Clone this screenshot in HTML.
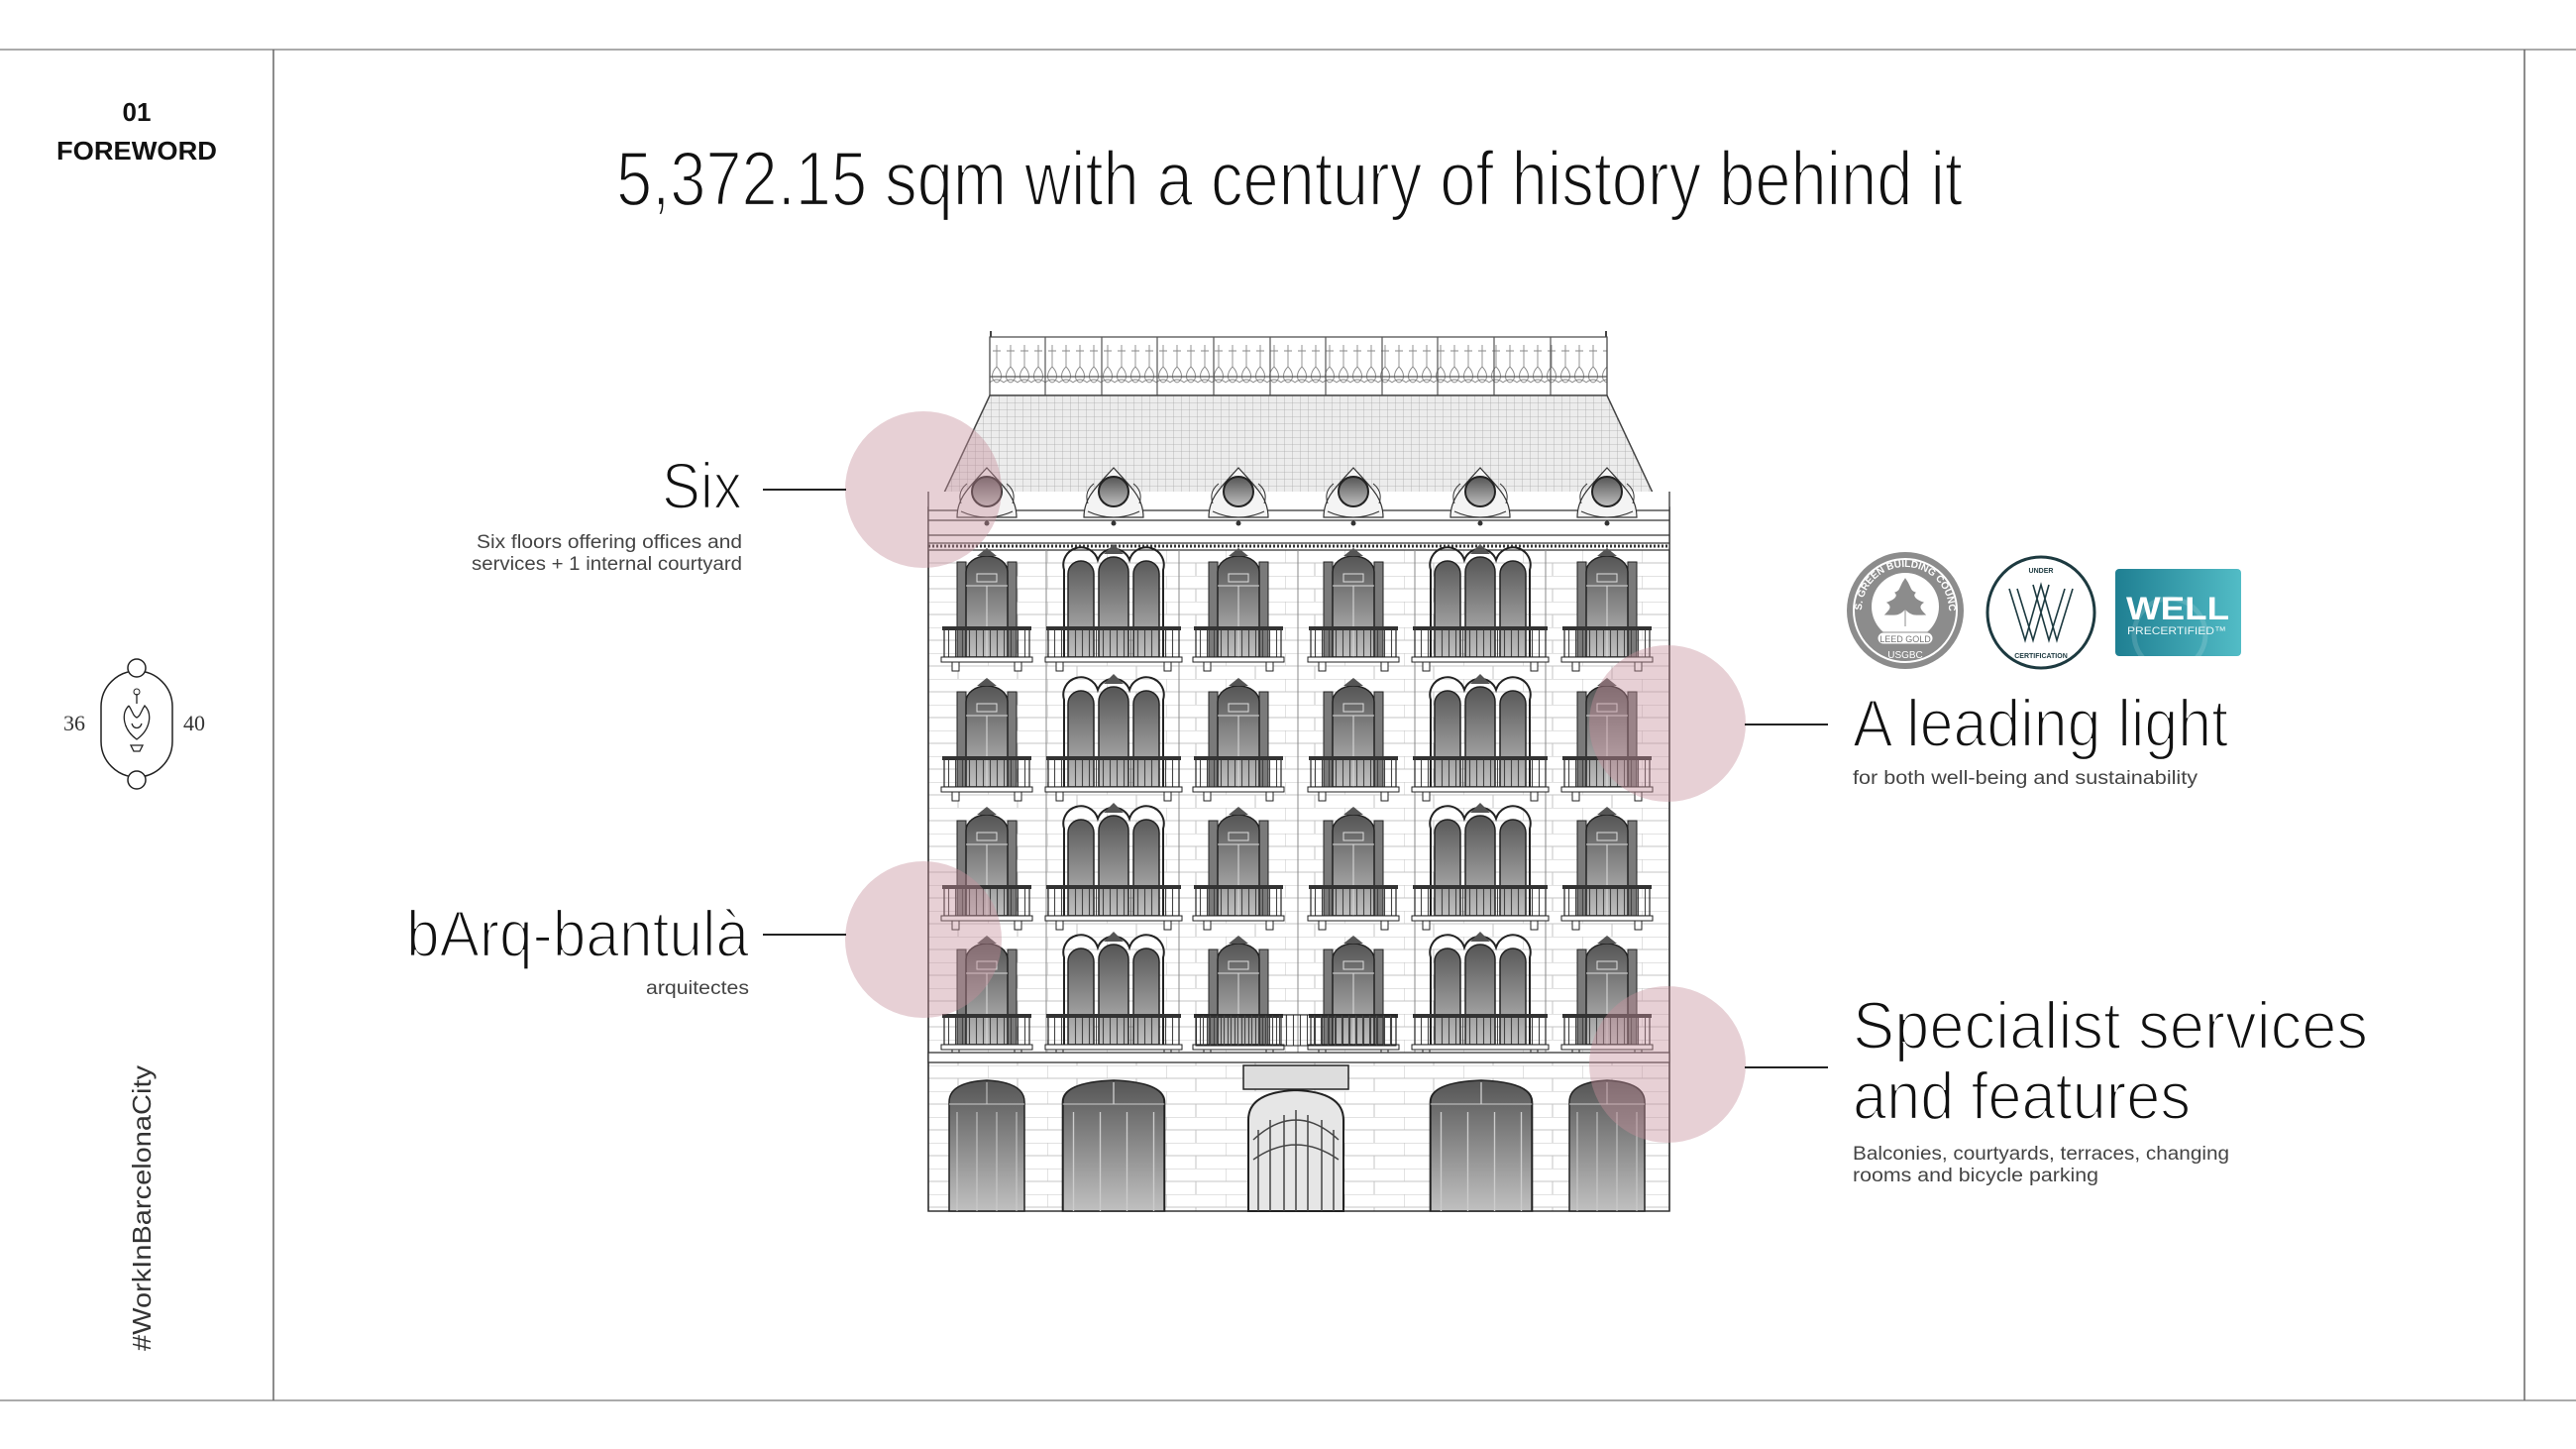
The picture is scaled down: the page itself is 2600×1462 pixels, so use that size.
<!DOCTYPE html>
<html><head><meta charset="utf-8"><style>
html,body{margin:0;padding:0;background:#fff;}
svg{display:block;}
text{font-family:"Liberation Sans",sans-serif;}
.thin{stroke:#fff;stroke-width:2.2px;}
</style></head><body>
<svg width="2600" height="1462" viewBox="0 0 2600 1462" xmlns="http://www.w3.org/2000/svg" fill="#111">
<defs>
 <linearGradient id="wg" x1="0" y1="0" x2="0" y2="1"><stop offset="0" stop-color="#555"/><stop offset="1" stop-color="#c0c0c0"/></linearGradient>
 <linearGradient id="wellg" x1="0" y1="0" x2="1" y2="0"><stop offset="0" stop-color="#1f7f92"/><stop offset="1" stop-color="#52bcc6"/></linearGradient>
 <pattern id="brick" x="937" y="555" width="60" height="26" patternUnits="userSpaceOnUse">
  <path d="M0 0H60M0 13H60M0 0V13M30 13V26" stroke="#c4c4c4" stroke-width="1" fill="none"/>
 </pattern>
 <pattern id="tile" x="0" y="399" width="8" height="7" patternUnits="userSpaceOnUse">
  <rect width="8" height="7" fill="#ececec"/><path d="M0 0H8M0 0V7" stroke="#ababab" stroke-width="0.8"/>
 </pattern>
 <pattern id="rail" x="999" y="340" width="14" height="59" patternUnits="userSpaceOnUse">
  <path d="M7 8V30M3 14H11M7 30c-6 6 -6 14 0 16c6-2 6-10 0-16M0 46c4-4 10-4 14 0" stroke="#888" stroke-width="0.9" fill="none"/>
 </pattern>
 <pattern id="bal" x="0" y="0" width="7" height="30" patternUnits="userSpaceOnUse">
  <path d="M3.5 0V30" stroke="#444" stroke-width="1.1"/>
 </pattern>
 <g id="nw">
  <rect x="-30" y="10" width="9" height="96" fill="#7a7a7a" stroke="#222"/>
  <rect x="21" y="10" width="9" height="96" fill="#7a7a7a" stroke="#222"/>
  <path d="M-21 106V20A21 16 0 0 1 21 20V106Z" fill="url(#wg)" stroke="#222" stroke-width="1.5"/>
  <path d="M-21 34H21M0 34V106M-10 22H10V30H-10Z" stroke="#ddd" stroke-width="1" fill="none"/>
  <path d="M-10 4L0 -4L10 4Z" fill="#555"/>
  <rect x="-43" y="78" width="86" height="28" fill="url(#bal)" stroke="#222" stroke-width="1.2"/>
  <rect x="-45" y="75" width="90" height="4" fill="#333"/>
  <rect x="-46" y="106" width="92" height="5" fill="#fff" stroke="#222"/>
  <rect x="-35" y="111" width="7" height="9" fill="#fff" stroke="#222"/>
  <rect x="28" y="111" width="7" height="9" fill="#fff" stroke="#222"/>
 </g>
 <g id="ww">
  <path d="M-46 106V22A13 13 0 0 1 -20 22V106Z M-15 106V20A15 15 0 0 1 15 20V106Z M20 106V22A13 13 0 0 1 46 22V106Z" fill="url(#wg)" stroke="#222" stroke-width="1.5"/>
  <path d="M-50 106V18A17 17 0 0 1 -16 8A17 17 0 0 1 16 8A17 17 0 0 1 50 18V106" fill="none" stroke="#222" stroke-width="2"/>
  <path d="M-10 2L0 -8L10 2Z" fill="#555"/>
  <rect x="-66" y="78" width="132" height="28" fill="url(#bal)" stroke="#222" stroke-width="1.2"/>
  <rect x="-68" y="75" width="136" height="4" fill="#333"/>
  <rect x="-69" y="106" width="138" height="5" fill="#fff" stroke="#222"/>
  <rect x="-58" y="111" width="7" height="9" fill="#fff" stroke="#222"/>
  <rect x="51" y="111" width="7" height="9" fill="#fff" stroke="#222"/>
 </g>
 <g id="dorm">
  <path d="M-30 28C-30 8 -18 -2 0 -22C18 -2 30 8 30 28Z" fill="#f4f4f4" stroke="#333" stroke-width="1.2"/>
  <circle cx="0" cy="2" r="15" fill="url(#wg)" stroke="#222" stroke-width="2"/>
  <path d="M-26 22Q0 34 26 22M-20 -6Q-30 2 -26 14M20 -6Q30 2 26 14" fill="none" stroke="#333"/>
  <circle cx="0" cy="34" r="2.5" fill="#333"/>
 </g>
 <g id="arch">
  <path d="M-38 130V20Q-38 0 0 -2Q38 0 38 20V130Z" fill="url(#wg)" stroke="#222" stroke-width="1.5"/>
  <path d="M-38 22H38M-30 30V130M-10 30V130M10 30V130M30 30V130M0 0V22" stroke="#ccc" fill="none"/>
 </g>
</defs>

<line x1="0" y1="50" x2="2600" y2="50" stroke="#aaa" stroke-width="2"/>
<line x1="0" y1="1413" x2="2600" y2="1413" stroke="#aaa" stroke-width="2"/>
<line x1="276" y1="50" x2="276" y2="1413" stroke="#666" stroke-width="1.5"/>
<line x1="2548" y1="50" x2="2548" y2="1413" stroke="#666" stroke-width="1.5"/>

<text x="138" y="122" font-size="26" font-weight="bold" text-anchor="middle">01</text>
<text x="138" y="161" font-size="26" font-weight="bold" text-anchor="middle" textLength="162" lengthAdjust="spacingAndGlyphs">FOREWORD</text>
<rect x="102" y="677" width="72" height="107" rx="36" fill="none" stroke="#222" stroke-width="1.5"/>
<circle cx="138" cy="674" r="9" fill="#fff" stroke="#222" stroke-width="1.5"/>
<circle cx="138" cy="787" r="9" fill="#fff" stroke="#222" stroke-width="1.5"/>
<path d="M138 700v10M130 712c-8 8 -6 24 8 34c14-10 16-26 8-34c-4 6 -4 10 -8 12c-4-2 -4-6 -8-12M133 730c2 6 8 6 10 0M132 752h12l-3 6h-6z" fill="none" stroke="#222" stroke-width="1.3"/>
<circle cx="138" cy="698" r="3" fill="none" stroke="#222"/>
<text x="64" y="737" font-size="22" style="font-family:'Liberation Serif',serif" fill="#333">36</text>
<text x="185" y="737" font-size="22" style="font-family:'Liberation Serif',serif" fill="#333">40</text>
<text transform="translate(152,1363) rotate(-90)" font-size="26" textLength="288" lengthAdjust="spacingAndGlyphs" fill="#333">#WorkInBarcelonaCity</text>

<text class="thin" x="622" y="207" font-size="78" textLength="1359" lengthAdjust="spacingAndGlyphs">5,372.15 sqm with a century of history behind it</text>

<rect x="999" y="340" width="623" height="59" fill="url(#rail)" stroke="#444" stroke-width="1.2"/>
<path d="M999 340V399M1055 340V399M1112 340V399M1168 340V399M1225 340V399M1282 340V399M1338 340V399M1395 340V399M1451 340V399M1508 340V399M1565 340V399M1622 340V399M999 380H1622" stroke="#555" stroke-width="1.2"/>
<path d="M1000 340V334M1621 340V334" stroke="#444" stroke-width="2"/>
<polygon points="946,512 999,399 1622,399 1675,512" fill="url(#tile)" stroke="#444" stroke-width="1.5"/>
<rect x="937" y="512" width="748" height="710" fill="url(#brick)" stroke="#333" stroke-width="1.5"/>
<rect x="937" y="496" width="748" height="59" fill="#fff" stroke="none"/>
<path d="M937 496V1222M1685 496V1222M937 515H1685M937 525H1685M937 540H1685M937 548H1685M937 555H1685" stroke="#333" stroke-width="1.3"/>
<path d="M937 551H1685" stroke="#333" stroke-width="3" stroke-dasharray="2 2"/>
<path d="M1056 555V1062M1190 555V1062M1310 555V1062M1428 555V1062M1560 555V1062" stroke="#888" stroke-width="1"/>
<use href="#dorm" x="996" y="494"/><use href="#dorm" x="1124" y="494"/><use href="#dorm" x="1250" y="494"/>
<use href="#dorm" x="1366" y="494"/><use href="#dorm" x="1494" y="494"/><use href="#dorm" x="1622" y="494"/>
<g>
 <use href="#nw" x="996" y="557"/><use href="#ww" x="1124" y="557"/><use href="#nw" x="1250" y="557"/><use href="#nw" x="1366" y="557"/><use href="#ww" x="1494" y="557"/><use href="#nw" x="1622" y="557"/>
 <use href="#nw" x="996" y="688"/><use href="#ww" x="1124" y="688"/><use href="#nw" x="1250" y="688"/><use href="#nw" x="1366" y="688"/><use href="#ww" x="1494" y="688"/><use href="#nw" x="1622" y="688"/>
 <use href="#nw" x="996" y="818"/><use href="#ww" x="1124" y="818"/><use href="#nw" x="1250" y="818"/><use href="#nw" x="1366" y="818"/><use href="#ww" x="1494" y="818"/><use href="#nw" x="1622" y="818"/>
 <use href="#nw" x="996" y="948"/><use href="#ww" x="1124" y="948"/><use href="#nw" x="1250" y="948"/><use href="#nw" x="1366" y="948"/><use href="#ww" x="1494" y="948"/><use href="#nw" x="1622" y="948"/>
</g>
<rect x="1207" y="1024" width="202" height="31" fill="url(#bal)" stroke="#222"/>
<rect x="937" y="1062" width="748" height="10" fill="#fff" stroke="#333" stroke-width="1.3"/>
<use href="#arch" x="996" y="1092"/>
<g transform="translate(1124,1092) scale(1.35,1)"><use href="#arch"/></g>
<g transform="translate(1495,1092) scale(1.35,1)"><use href="#arch"/></g>
<use href="#arch" x="1622" y="1092"/>
<rect x="1255" y="1075" width="106" height="24" fill="#ddd" stroke="#222" stroke-width="1.5"/>
<path d="M1260 1222V1130Q1260 1102 1308 1100Q1356 1102 1356 1130V1222Z" fill="#e6e6e6" stroke="#222" stroke-width="2"/>
<path d="M1270 1222V1140M1282 1222V1130M1296 1222V1125M1308 1222V1120M1320 1222V1125M1334 1222V1130M1346 1222V1140M1265 1150Q1308 1110 1351 1150M1265 1170Q1308 1140 1351 1170" stroke="#444" stroke-width="1.5" fill="none"/>

<g fill="#c58f9b" fill-opacity="0.42">
 <circle cx="932" cy="494" r="79"/>
 <circle cx="1683" cy="730" r="79"/>
 <circle cx="932" cy="948" r="79"/>
 <circle cx="1683" cy="1074" r="79"/>
</g>
<g stroke="#222" stroke-width="2">
 <line x1="770" y1="494" x2="854" y2="494"/>
 <line x1="770" y1="943" x2="854" y2="943"/>
 <line x1="1761" y1="731" x2="1845" y2="731"/>
 <line x1="1761" y1="1077" x2="1845" y2="1077"/>
</g>

<text class="thin" x="749" y="513" font-size="66" text-anchor="end" textLength="81" lengthAdjust="spacingAndGlyphs">Six</text>
<text x="749" y="553" font-size="19" text-anchor="end" textLength="268" lengthAdjust="spacingAndGlyphs" fill="#444">Six floors offering offices and</text>
<text x="749" y="575" font-size="19" text-anchor="end" textLength="273" lengthAdjust="spacingAndGlyphs" fill="#444">services + 1 internal courtyard</text>
<text class="thin" x="410" y="965" font-size="66" textLength="346" lengthAdjust="spacingAndGlyphs">bArq-bantulà</text>
<text x="756" y="1003" font-size="19" text-anchor="end" textLength="104" lengthAdjust="spacingAndGlyphs" fill="#444">arquitectes</text>

<text class="thin" x="1870" y="753" font-size="68" textLength="379" lengthAdjust="spacingAndGlyphs">A leading light</text>
<text x="1870" y="791" font-size="19" textLength="348" lengthAdjust="spacingAndGlyphs" fill="#444">for both well-being and sustainability</text>
<text class="thin" x="1870" y="1058" font-size="68" textLength="520" lengthAdjust="spacingAndGlyphs">Specialist services</text>
<text class="thin" x="1870" y="1129" font-size="68" textLength="341" lengthAdjust="spacingAndGlyphs">and features</text>
<text x="1870" y="1170" font-size="19" textLength="380" lengthAdjust="spacingAndGlyphs" fill="#444">Balconies, courtyards, terraces, changing</text>
<text x="1870" y="1192" font-size="19" textLength="248" lengthAdjust="spacingAndGlyphs" fill="#444">rooms and bicycle parking</text>

<circle cx="1923" cy="616" r="59" fill="#8c8c8c"/>
<circle cx="1923" cy="616" r="52" fill="none" stroke="#fff" stroke-width="2"/>
<circle cx="1923" cy="612" r="34" fill="#fff"/>
<path d="M1923 584c-6 8-4 12-10 14c4 4-2 8-8 10c6 4 2 8 -2 12c8 0 14 2 20 -6c6 8 12 6 20 6c-4-4-8-8-2-12c-6-2-12-6-8-10c-6-2-4-6-10-14zM1923 610v22" fill="#8c8c8c" stroke="#8c8c8c"/>
<rect x="1895" y="638" width="56" height="12" rx="6" fill="#fff" stroke="#8c8c8c"/>
<text x="1923" y="648" font-size="9" text-anchor="middle" fill="#777">LEED GOLD</text>
<text x="1923" y="664" font-size="10" text-anchor="middle" fill="#fff">USGBC</text>
<path id="arcT" d="M1879 616A44 44 0 0 1 1967 616" fill="none"/>
<text font-size="10" fill="#fff" font-weight="bold"><textPath href="#arcT" startOffset="50%" text-anchor="middle">U.S. GREEN BUILDING COUNCIL</textPath></text>
<ellipse cx="2060" cy="618" rx="54" ry="56" fill="#fff" stroke="#1d3a40" stroke-width="3"/>
<path d="M2028 594L2044 646L2060 590L2076 646L2092 594M2036 594L2052 646L2068 590M2052 590L2068 646L2084 594" fill="none" stroke="#1d3a40" stroke-width="1.6"/>
<text x="2060" y="578" font-size="7" text-anchor="middle" fill="#1d3a40" font-weight="bold">UNDER</text>
<text x="2060" y="664" font-size="7" text-anchor="middle" fill="#1d3a40" font-weight="bold">CERTIFICATION</text>
<rect x="2135" y="574" width="127" height="88" rx="4" fill="url(#wellg)"/>
<circle cx="2190" cy="640" r="36" fill="none" stroke="#fff" stroke-opacity="0.15" stroke-width="5"/>
<text x="2146" y="625" font-size="32" font-weight="bold" fill="#fff" textLength="104" lengthAdjust="spacingAndGlyphs">WELL</text>
<text x="2147" y="640" font-size="11" fill="#e8f6f7" textLength="100" lengthAdjust="spacingAndGlyphs">PRECERTIFIED™</text>
</svg>
</body></html>
